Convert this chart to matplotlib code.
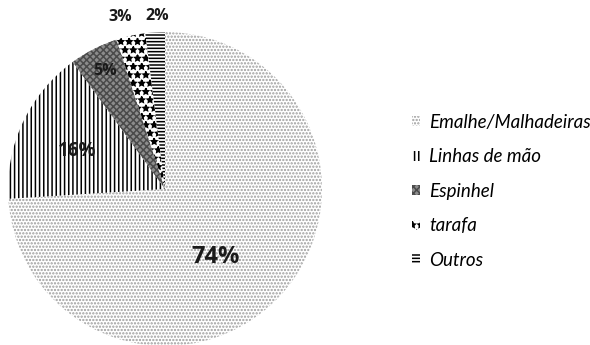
import matplotlib
matplotlib.use("Agg")
import matplotlib.pyplot as plt
import numpy as np

# Fishing gear share of catches
categories = ["Emalhe/Malhadeiras", "Linhas de mão", "Espinhel", "tarafa", "Outros"]
shares = [74, 16, 5, 3, 2]
pct_labels = ["74%", "16%", "5%", "3%", "2%"]

# Label placement (radius factor, angle shift in degrees from slice middle) and font sizes
label_radius = [0.54, 0.61, 0.84, 1.13, 1.10]
label_shift = [-10.5, 1.8, 0.0, 2.1, -0.9]
label_size = [17, 13.5, 11.5, 11.5, 11.5]

# Fill styles for each gear type: face, hatch colour, hatch pattern
faces = ["white", "white", "#8c8c8c", "white", "white"]
hatch_colors = ["#9c9c9c", "black", "#4a4a4a", "black", "black"]
hatches = [".....", "||||", "xxxxx", "**", "-----"]

plt.rcParams["hatch.linewidth"] = 1.1
plt.rcParams["font.family"] = ["Lato", "DejaVu Sans"]

fig = plt.figure(figsize=(5.9, 3.45), dpi=100)
W, H = 590, 345
cx, cy, r = 165, 189, 157
ax = fig.add_axes([(cx - r) / W, (H - cy - r) / H, 2 * r / W, 2 * r / H])

wedges, _ = ax.pie(shares, startangle=90, counterclock=False, radius=1,
                   wedgeprops=dict(linewidth=0))
for w, fc, hc, hp in zip(wedges, faces, hatch_colors, hatches):
    w.set_facecolor(fc)
    w.set_edgecolor(hc)
    w.set_hatch(hp)
    w.set_linewidth(0)

ax.set_xlim(-1, 1)
ax.set_ylim(-1, 1)
ax.axis("off")

for w, lab, rf, sh, fs in zip(wedges, pct_labels, label_radius, label_shift, label_size):
    mid = np.deg2rad((w.theta1 + w.theta2) / 2 + sh)
    ax.text(rf * np.cos(mid), rf * np.sin(mid), lab, ha="center", va="center",
            fontsize=fs, fontweight="bold", family=["Open Sans", "DejaVu Sans"],
            color="#1a1a1a", clip_on=False)

leg = fig.legend(wedges, categories, loc="upper left",
                 bbox_to_anchor=(412 / W, 1 - 114 / H),
                 frameon=False, borderpad=0, borderaxespad=0,
                 handlelength=0.45, handleheight=0.45,
                 handletextpad=0.45, labelspacing=0.93,
                 prop=dict(family=["Lato", "DejaVu Sans"], style="italic", size=13.5))

fig.savefig("out.png", dpi=100)
